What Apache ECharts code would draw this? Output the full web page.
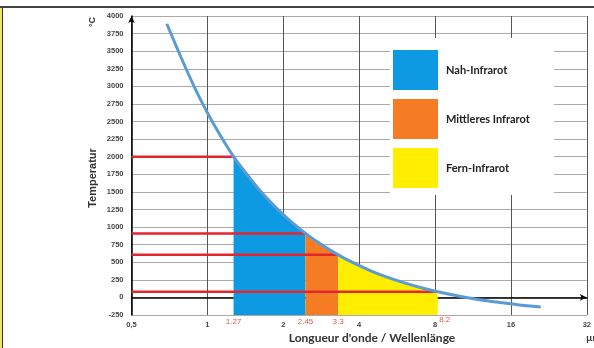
<!DOCTYPE html>
<html><head><meta charset="utf-8">
<script src="https://cdn.jsdelivr.net/npm/echarts@6/dist/echarts.min.js"></script>
<style>html,body{margin:0;padding:0;background:#fff}#c{width:594px;height:348px}</style>
</head><body><div id="c"></div>
<script>
// Wavelength (µm) and temperature (°C)
const curveLambda = [0.69, 0.8, 0.9, 1.0, 1.1, 1.27, 1.4, 1.6, 1.8, 2.0, 2.2, 2.45, 2.8, 3.3, 3.8, 4.4, 5, 6, 7, 8.2, 10, 12, 14, 17, 21];
const curveTemp   = [3890, 3350, 2947, 2625, 2361, 2000, 1797, 1538, 1337, 1176, 1044, 910, 762, 605, 490, 386, 307, 210, 141, 80, 17, -32, -66, -103, -135];
// Band boundaries (µm)
const bandEdges = [1.27, 2.45, 3.3, 8.2];
const bandNames = ['Nah-Infrarot', 'Mittleres Infrarot', 'Fern-Infrarot'];
const bandColors = ['#0d9ae2', '#f57c22', '#ffee00'];
// Red reference levels (°C) reaching the curve at each edge
const refTemps = [2000, 910, 605, 80];
const xTicks = [0.5, 1, 2, 4, 8, 16, 32];

const pts = curveLambda.map((l, i) => [l, curveTemp[i]]);
const bandSeries = bandNames.map((name, i) => ({
  name, type: 'line', symbol: 'none', z: 2,
  color: bandColors[i],
  lineStyle: { width: 0 },
  areaStyle: { color: bandColors[i], opacity: 1, origin: 'start' },
  data: pts.filter(p => p[0] >= bandEdges[i] - 1e-9 && p[0] <= bandEdges[i + 1] + 1e-9),
  silent: true
}));
const redSeries = bandEdges.map((e, i) => ({
  type: 'line', symbol: 'none', z: 4,
  lineStyle: { color: '#e3262d', width: 2.5 },
  data: [[0.5, refTemps[i]], [e, refTemps[i]]]
}));
const edgeLabels = {
  type: 'scatter', symbolSize: 0, z: 6,
  data: bandEdges.map((e, i) => ({
    value: [e, -250],
    label: { show: true, position: 'bottom', distance: 3, formatter: String(e),
      color: '#e3262d', fontSize: 8, fontFamily: 'Liberation Sans',
      offset: i === 3 ? [7, -2] : [0, 0] }
  }))
};

const chart = echarts.init(document.getElementById('c'));
chart.setOption({
  animation: false,
  backgroundColor: '#fff',
  grid: { left: 131.5, right: -2.5, top: 16, bottom: 33 },
  legend: {
    data: bandNames, orient: 'vertical', left: 390, top: 38,
    icon: 'rect', itemWidth: 45, itemHeight: 40, itemGap: 9,
    padding: [12, 24, 7, 3], backgroundColor: '#fff',
    textStyle: { fontFamily: 'Lato', fontWeight: 'bold', fontSize: 11, color: '#222', padding: [0, 0, 0, 3] },
    selectedMode: false
  },
  xAxis: {
    type: 'log', logBase: 2, min: 0.5, max: 32,
    axisLine: { lineStyle: { color: '#000', width: 1.5 }, symbol: ['none', 'arrow'], symbolSize: [5, 7] },
    axisTick: { show: false },
    axisLabel: { fontSize: 7.5, fontWeight: 'bold', color: '#444', fontFamily: 'Liberation Sans', margin: 6,
      formatter: v => String(v).replace('.', ',') },
    splitLine: { show: true, lineStyle: { color: '#555', width: 1 } },
    minorTick: { show: false }
  },
  yAxis: {
    type: 'value', min: -250, max: 4000, interval: 250,
    axisLine: { show: true, lineStyle: { color: '#000', width: 1.5 }, symbol: ['none', 'arrow'], symbolSize: [5, 7] },
    axisTick: { show: false },
    axisLabel: { fontSize: 7.5, fontWeight: 'bold', color: '#444', fontFamily: 'Liberation Sans', margin: 8,
      formatter: v => String(v) },
    splitLine: { show: true, lineStyle: { color: '#aaa', width: 1 } }
  },
  series: [
    ...bandSeries,
    ...redSeries,
    { type: 'line', symbol: 'none', z: 5, smooth: 0.3, data: pts,
      lineStyle: { color: '#5b9bd5', width: 3 } },
    edgeLabels
  ],
  graphic: [
    { type: 'rect', shape: { x: 0, y: 7, width: 2, height: 341 }, style: { fill: '#f3e36a' }, z: 100 },
    { type: 'line', shape: { x1: 2.5, y1: 7, x2: 2.5, y2: 348 }, style: { stroke: '#333', lineWidth: 1 }, z: 100 },
    { type: 'line', shape: { x1: 0, y1: 7, x2: 594, y2: 7 }, style: { stroke: '#444', lineWidth: 2 }, z: 100 },
    { type: 'text', x: 93, y: 22, rotation: Math.PI / 2, style: { text: '°C', fontFamily: 'Liberation Sans', fontWeight: 'bold', fontSize: 9, fill: '#333', textAlign: 'center', textVerticalAlign: 'middle' }, z: 100 },
    { type: 'text', x: 93, y: 178, rotation: Math.PI / 2, style: { text: 'Temperatur', fontFamily: 'Liberation Sans', fontWeight: 'bold', fontSize: 11, fill: '#333', textAlign: 'center', textVerticalAlign: 'middle' }, z: 100 },
    { type: 'text', x: 372, y: 338, style: { text: "Longueur d'onde / Wellenlänge", fontFamily: 'Lato', fontWeight: 'bold', fontSize: 12, fill: '#333', textAlign: 'center', textVerticalAlign: 'middle' }, z: 100 },
    { type: 'text', x: 586, y: 338, style: { text: 'µm', fontFamily: 'Lato', fontWeight: 'bold', fontSize: 10, fill: '#333', textAlign: 'left', textVerticalAlign: 'middle' }, z: 100 }
  ]
});
</script></body></html>
